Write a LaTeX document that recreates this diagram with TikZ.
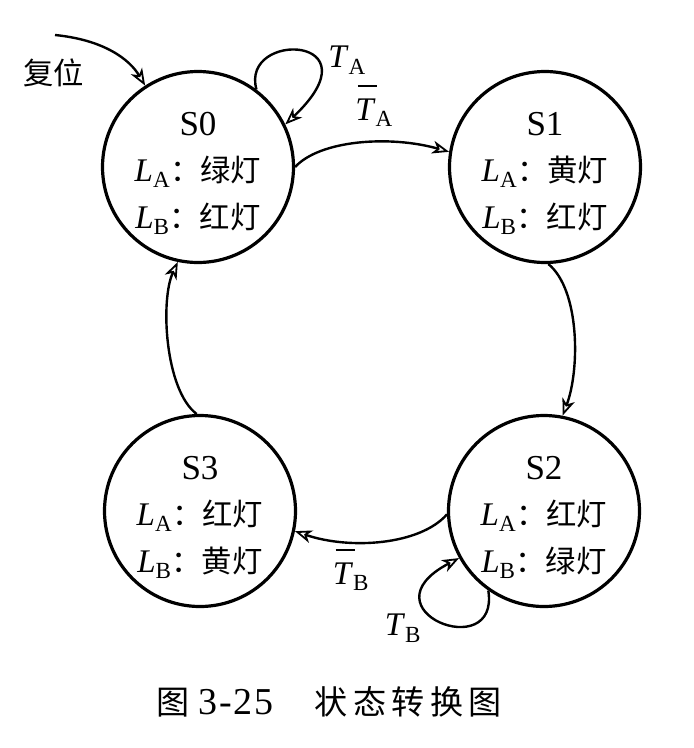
\documentclass[tikz,border=0pt]{standalone}
\usepackage{fontspec}
\setmainfont{Liberation Serif}
\newfontfamily\cjk[Scale=0.92]{Noto Sans CJK SC}
\usetikzlibrary{arrows.meta}
\newcommand\Lsub[1]{\textit{L}\textsubscript{#1}}
\newcommand\Tsub[1]{\textit{T}\textsubscript{#1}}
\newcommand\Tbar[1]{\rlap{\kern0.08em\rule[1.0em]{0.58em}{0.06em}}\textit{T}\textsubscript{#1}}
\newcommand\Sname[1]{{\fontsize{35}{47}\selectfont\rule{0pt}{36pt}#1}}
\begin{document}
\begin{tikzpicture}[x=1pt,y=-1pt,
  state/.style={circle,draw,line width=3.2pt,minimum size=191pt,inner sep=0pt,
    align=center,font=\fontsize{33}{47}\selectfont},
  lbl/.style={inner sep=0pt,font=\fontsize{33}{40}\selectfont},
  edge/.style={line width=2.4pt,-{Stealth[open,length=17pt,width=13pt,inset=5pt,line width=1.8pt]}}]
\useasboundingbox (0,0) rectangle (694,748);
\node[state] (s0) at (198,167) {\Sname{S0}\\[-1pt]\Lsub{A}{\cjk ：绿灯}\\\Lsub{B}{\cjk ：红灯}};
\node[state] (s1) at (545,167) {\Sname{S1}\\[-1pt]\Lsub{A}{\cjk ：黄灯}\\\Lsub{B}{\cjk ：红灯}};
\node[state] (s2) at (544,511) {\Sname{S2}\\[-1pt]\Lsub{A}{\cjk ：红灯}\\\Lsub{B}{\cjk ：绿灯}};
\node[state] (s3) at (200,511) {\Sname{S3}\\[-1pt]\Lsub{A}{\cjk ：红灯}\\\Lsub{B}{\cjk ：黄灯}};
\coordinate (rst) at (55,35);
\node[lbl] (lrst) at (54,73) {\cjk 复位};
\node[lbl] (lta) at (347,60) {\Tsub{A}};
\node[lbl] (ltab) at (374,106) {\Tbar{A}};
\node[lbl] (ltbb) at (351,570) {\Tbar{B}};
\node[lbl] (ltb) at (403,628) {\Tsub{B}};
\node[lbl,anchor=west,font=\fontsize{38}{44}\selectfont] (cap) at (156,702)
  {{\cjk\fontsize{36}{44}\selectfont 图}\kern9pt 3\kern2pt-\kern2pt2\kern1.5pt5\kern41pt{\cjk\fontsize{36}{44}\selectfont 状\kern5.5pt 态\kern5.5pt 转\kern5.5pt 换\kern5.5pt 图}};
\draw[edge] (rst) .. controls (105,40) and (130,60) .. (s0.123);
\draw[edge] (s0.53) .. controls (240,30) and (380,35) .. (s0.26);
\draw[edge] (s0.east) .. controls (320,140) and (390,135) .. (s1.171);
\draw[edge] (s1.-88) .. controls (580,290) and (580,370) .. (s2.79);
\draw[edge] (s2.182) .. controls (420,545) and (350,550) .. (s3.-12);
\draw[edge] (s2.235) .. controls (500,665) and (360,610) .. (s2.209);
\draw[edge] (s3.92) .. controls (165,390) and (160,300) .. (s0.258);
\end{tikzpicture}
\end{document}
